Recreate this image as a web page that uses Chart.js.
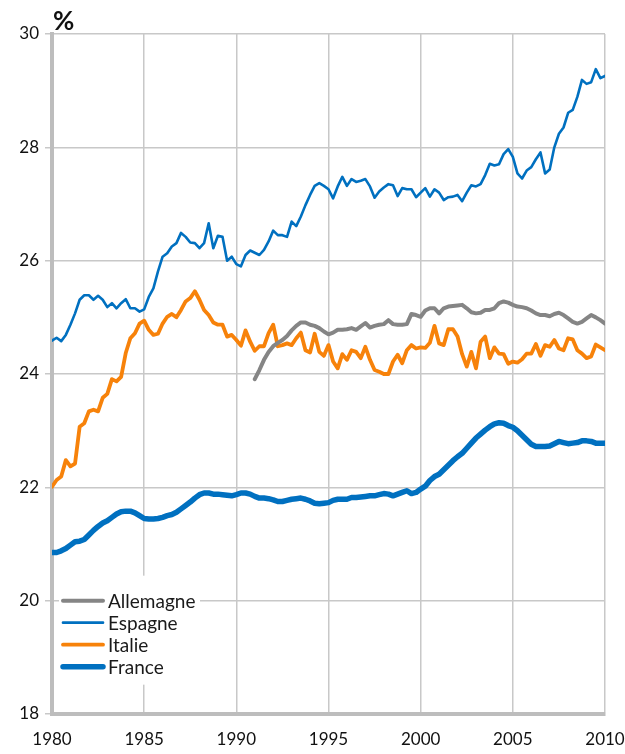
<!DOCTYPE html>
<html lang="fr">
<head>
<meta charset="utf-8">
<script src="https://cdn.jsdelivr.net/npm/chart.js@4.4.1/dist/chart.umd.min.js"></script>
<style>
  html, body { margin: 0; padding: 0; background: #fff; }
  #wrap { width: 625px; height: 754px; }
</style>
</head>
<body>
<div id="wrap"><canvas id="chart" width="625" height="754"></canvas></div>
<script>
// ==========================================
// DATA (quarterly, 1980 T1 -> 2010 T1)
// ==========================================
const startYear = 1980;
const unitLabel = '%';
const seriesNames = ['Allemagne', 'Espagne', 'Italie', 'France'];

// Allemagne only starts in 1991 (44 empty quarters before)
const allemagne = Array(44).fill(null).concat([
  23.91, 24.07, 24.25, 24.39, 24.49, 24.55, 24.60, 24.67, 24.77, 24.85,
  24.91, 24.91, 24.87, 24.85, 24.81, 24.75, 24.70, 24.73, 24.78, 24.78,
  24.79, 24.81, 24.78, 24.84, 24.90, 24.82, 24.85, 24.87, 24.88, 24.95,
  24.88, 24.87, 24.87, 24.88, 25.06, 25.04,
  25.01, 25.12, 25.16, 25.16, 25.07, 25.16, 25.19, 25.20, 25.21, 25.22,
  25.16, 25.09, 25.07, 25.08, 25.13, 25.13, 25.16, 25.25, 25.28, 25.26,
  25.22, 25.19, 25.18, 25.16, 25.12, 25.07, 25.04, 25.04, 25.02, 25.06,
  25.08, 25.04, 24.98, 24.92, 24.89, 24.92, 24.98, 25.04, 25.00, 24.95,
  24.89
]);

const espagne = [
  24.59, 24.64, 24.58, 24.69, 24.87, 25.07, 25.31, 25.39, 25.39, 25.31,
  25.38, 25.31, 25.18, 25.25, 25.16, 25.25, 25.32, 25.16, 25.16, 25.10,
  25.14, 25.36, 25.51, 25.81, 26.07, 26.13, 26.25, 26.31, 26.49, 26.42,
  26.32, 26.31, 26.22, 26.31, 26.66, 26.22, 26.44, 26.42, 26.00, 26.07,
  25.94, 25.90, 26.10,
  26.18, 26.14, 26.10, 26.19, 26.34, 26.53, 26.45, 26.45, 26.42, 26.69,
  26.61, 26.78, 26.98, 27.16, 27.32, 27.37, 27.32, 27.26, 27.10, 27.31,
  27.48, 27.32, 27.44, 27.39, 27.41, 27.44, 27.31, 27.11, 27.22, 27.29,
  27.35, 27.33, 27.14, 27.28, 27.26, 27.26, 27.12,
  27.20, 27.28, 27.13, 27.26, 27.20, 27.07, 27.12, 27.13, 27.16, 27.05,
  27.20, 27.33, 27.31, 27.35, 27.51, 27.71, 27.68, 27.70, 27.88, 27.97,
  27.83, 27.54, 27.45, 27.59, 27.65, 27.79, 27.91, 27.54, 27.61, 28.00,
  28.24, 28.35, 28.61, 28.66, 28.89, 29.19, 29.12, 29.15, 29.38, 29.22,
  29.26
];

const italie = [
  22.01, 22.13, 22.19, 22.48, 22.37, 22.42, 23.07, 23.13, 23.34, 23.37,
  23.34, 23.58, 23.65, 23.91, 23.87, 23.95, 24.37, 24.63, 24.72, 24.89,
  24.94, 24.78, 24.69, 24.71, 24.89, 25.01, 25.06, 25.00, 25.13, 25.28,
  25.34, 25.46, 25.31, 25.13, 25.04, 24.91, 24.87, 24.87, 24.66, 24.69,
  24.60, 24.50, 24.77,
  24.57, 24.41, 24.49, 24.49, 24.72, 24.87, 24.49, 24.51, 24.54, 24.51,
  24.63, 24.73, 24.42, 24.38, 24.71, 24.39, 24.32, 24.51, 24.22, 24.10,
  24.35, 24.25, 24.42, 24.39, 24.28, 24.48, 24.25, 24.07, 24.04, 24.00,
  24.00, 24.22, 24.34, 24.19, 24.42, 24.51, 24.45,
  24.47, 24.46, 24.55, 24.85, 24.54, 24.51, 24.79, 24.79, 24.66, 24.35,
  24.13, 24.39, 24.10, 24.57, 24.66, 24.28, 24.47, 24.36, 24.35, 24.18,
  24.22, 24.20, 24.26, 24.36, 24.36, 24.53, 24.32, 24.51, 24.48, 24.60,
  24.45, 24.42, 24.63, 24.61, 24.42, 24.36, 24.28, 24.31, 24.52, 24.47,
  24.42
];

const france = [
  20.85, 20.85, 20.88, 20.92, 20.98, 21.04, 21.05, 21.08, 21.16, 21.24,
  21.31, 21.37, 21.41, 21.47, 21.53, 21.57, 21.58, 21.58, 21.55, 21.50,
  21.45, 21.44, 21.44, 21.45, 21.47, 21.50, 21.52, 21.56, 21.62, 21.68,
  21.74, 21.81, 21.87, 21.90, 21.90, 21.88, 21.88, 21.87, 21.86, 21.85,
  21.87, 21.90, 21.90,
  21.88, 21.84, 21.81, 21.81, 21.80, 21.78, 21.75, 21.75, 21.77, 21.79,
  21.80, 21.81, 21.79, 21.76, 21.72, 21.71, 21.72, 21.73, 21.77, 21.79,
  21.79, 21.79, 21.82, 21.82, 21.83, 21.84, 21.85, 21.85, 21.87, 21.89,
  21.88, 21.85, 21.88, 21.91, 21.94, 21.89, 21.91,
  21.97, 22.02, 22.12, 22.19, 22.23, 22.31, 22.39, 22.47, 22.54, 22.60,
  22.69, 22.78, 22.87, 22.94, 23.01, 23.07, 23.12, 23.14, 23.13, 23.09,
  23.06, 23.00, 22.92, 22.84, 22.76, 22.72, 22.72, 22.72, 22.73, 22.77,
  22.81, 22.79, 22.77, 22.78, 22.79, 22.82, 22.82, 22.81, 22.78, 22.78,
  22.78
];

// Axis ticks
const xTicks = [1980, 1985, 1990, 1995, 2000, 2005, 2010];
const yTicks = [18, 20, 22, 24, 26, 28, 30];

// ==========================================
// STYLE
// ==========================================
const FONT = 'Lato, "Open Sans", sans-serif';
const GRID = '#c8c8c8';
const AXIS = '#bdbdbd';
const BLUE = '#0070c0';
const ORANGE = '#f7820a';
const GREY = '#858585';

// quarter i -> year + i/4
const toPoints = vals => vals.map((v, i) => ({ x: startYear + i / 4, y: v }));

// "%" above the y axis
const unitPlugin = {
    id: 'unitPlugin',
    afterDraw(chart) {
        const ctx = chart.ctx;
        ctx.save();
        ctx.font = `bold 26px ${FONT}`;
        ctx.fillStyle = '#111';
        ctx.textBaseline = 'alphabetic';
        ctx.fillText(unitLabel, chart.chartArea.left + 1, 30);
        ctx.restore();
    }
};

// legend drawn inside the plot, bottom left
const insideLegend = {
    id: 'insideLegend',
    afterDatasetsDraw(chart) {
        const ctx = chart.ctx;
        const x0 = chart.chartArea.left + 9;
        const y0 = chart.scales.y.getPixelForValue(20);
        ctx.save();
        ctx.fillStyle = '#fff';
        ctx.fillRect(x0 - 2, y0 - 25, 141, 109);
        chart.data.datasets.forEach((ds, i) => {
            const y = y0 + i * 22;
            ctx.strokeStyle = ds.borderColor;
            ctx.lineWidth = ds.borderWidth;
            ctx.lineCap = 'round';
            ctx.beginPath();
            ctx.moveTo(x0 + 2, y);
            ctx.lineTo(x0 + 42, y);
            ctx.stroke();
            ctx.fillStyle = '#1a1a1a';
            ctx.font = `19px ${FONT}`;
            ctx.textBaseline = 'middle';
            ctx.fillText(ds.label, x0 + 47, y + 1);
        });
        ctx.restore();
    }
};

const lineStyle = (label, values, color, width) => ({
    label: label,
    data: toPoints(values),
    borderColor: color,
    backgroundColor: color,
    borderWidth: width,
    pointRadius: 0,
    tension: 0,
    borderJoinStyle: 'round',
    borderCapStyle: 'round',
    spanGaps: false
});

new Chart(document.getElementById('chart'), {
    type: 'line',
    data: {
        datasets: [
            lineStyle(seriesNames[0], allemagne, GREY, 4),
            lineStyle(seriesNames[1], espagne, BLUE, 2.6),
            lineStyle(seriesNames[2], italie, ORANGE, 3.8),
            lineStyle(seriesNames[3], france, BLUE, 5.5)
        ]
    },
    options: {
        responsive: false,
        animation: false,
        layout: { padding: { top: 34, right: 20, left: 0, bottom: 0 } },
        plugins: {
            legend: { display: false },
            tooltip: { enabled: false }
        },
        scales: {
            x: {
                type: 'linear',
                min: xTicks[0],
                max: xTicks[xTicks.length - 1],
                afterBuildTicks: scale => { scale.ticks = xTicks.map(v => ({ value: v })); },
                afterFit: scale => {
                    scale.height = 40;
                    scale.paddingLeft = 0;
                    scale.paddingRight = 0;
                },
                ticks: {
                    padding: 15,
                    color: '#111',
                    font: { family: FONT, size: 17 },
                    callback: v => String(v)
                },
                grid: { color: GRID, lineWidth: 1.5, drawTicks: false },
                border: { color: AXIS, width: 4 }
            },
            y: {
                min: yTicks[0],
                max: yTicks[yTicks.length - 1],
                afterBuildTicks: scale => { scale.ticks = yTicks.map(v => ({ value: v })); },
                afterFit: scale => {
                    scale.width = 52;
                    scale.paddingTop = 0;
                    scale.paddingBottom = 0;
                },
                ticks: {
                    padding: 6,
                    color: '#111',
                    font: { family: FONT, size: 17 }
                },
                grid: { color: GRID, lineWidth: 1.5, tickLength: 7 },
                border: { color: AXIS, width: 4 }
            }
        }
    },
    plugins: [insideLegend, unitPlugin]
});
</script>
</body>
</html>
